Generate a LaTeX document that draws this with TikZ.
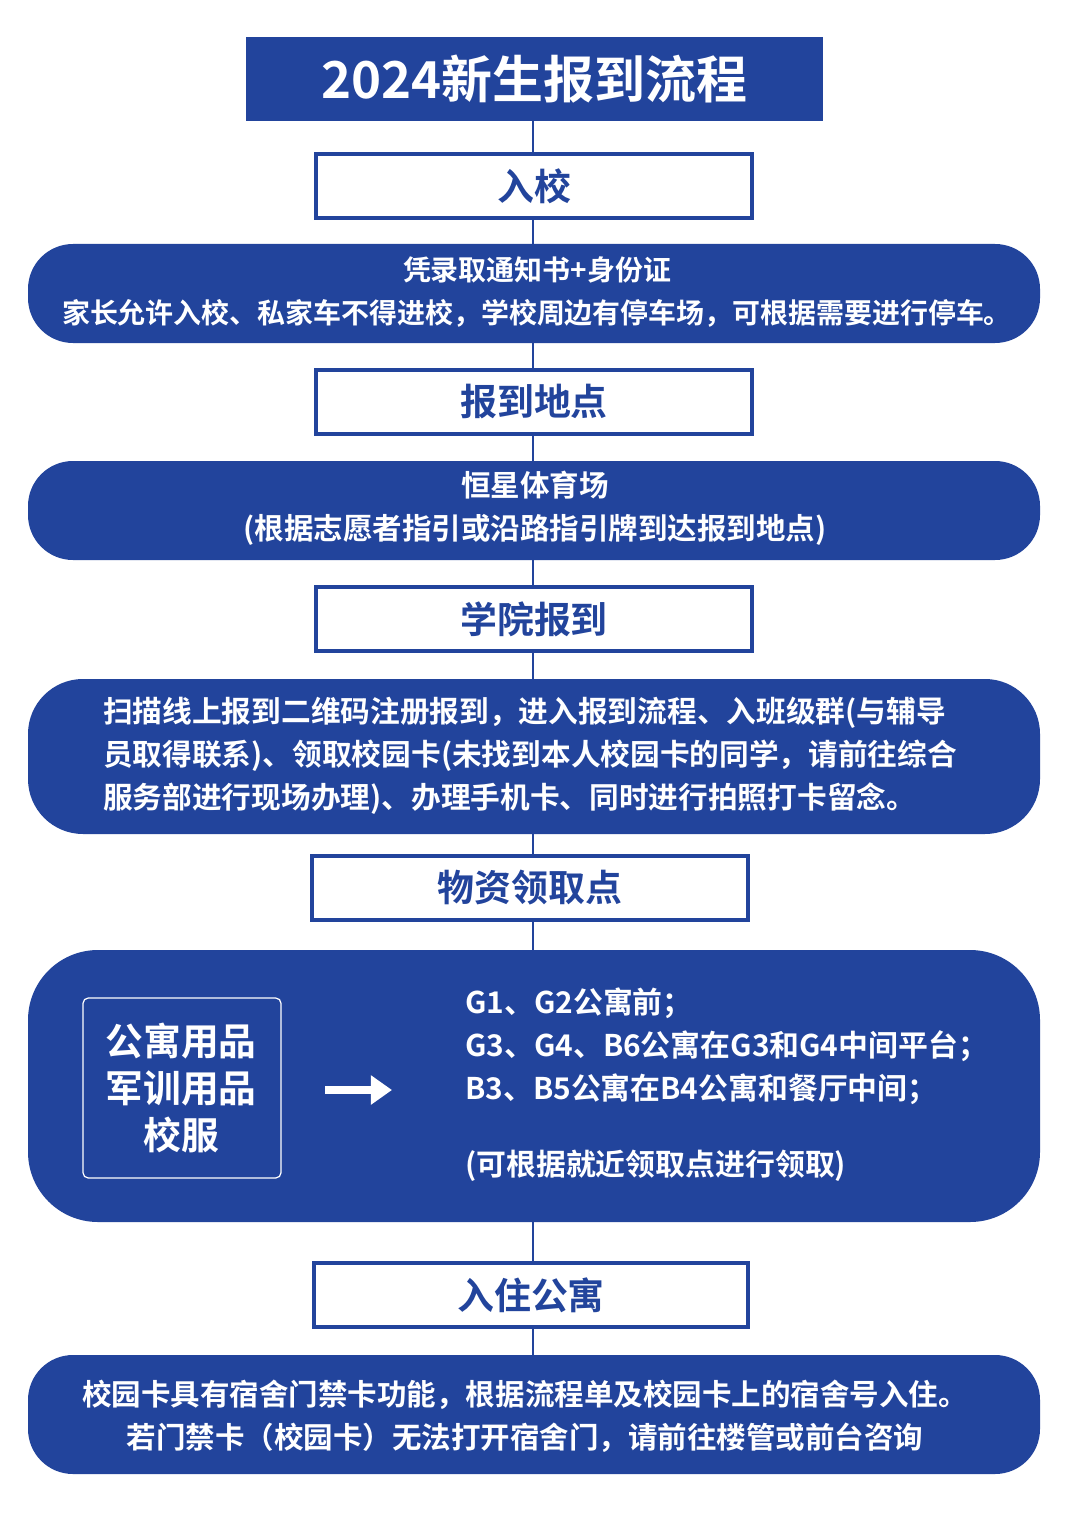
\documentclass[tikz,border=0pt]{standalone}
\usetikzlibrary{arrows.meta}
\usepackage{fontspec}
\setmainfont{Noto Sans CJK SC Bold}
\definecolor{bl}{HTML}{22449C}
\begin{document}
\begin{tikzpicture}[x=0.02cm,y=-0.02cm,
  stepbox/.style={draw=bl,line width=1.8pt,fill=white,text=bl,font=\fontsize{21}{24}\selectfont},
  conn/.style={draw=bl,line width=1pt}]
\useasboundingbox (0,0) rectangle (1080,1520);
\fill[white] (0,0) rectangle (1080,1520);
\coordinate (top) at (533,121);
\coordinate (bot) at (533,1355);
\draw[conn] (top) -- (bot);
\node[fill=bl,text=white,minimum width=577*0.02cm,minimum height=84*0.02cm,font=\fontsize{29}{32}\selectfont] (title) at (534.5,79) {2024新生报到流程};
% bands
\fill[bl,rounded corners=0.9cm] (28,244) rectangle (1040,343);
\node[text=white,align=center,font=\fontsize{15.9}{24.5}\selectfont] (b1) at (537,292) {凭录取通知书+身份证\\家长允许入校、私家车不得进校，学校周边有停车场，可根据需要进行停车。};
\fill[bl,rounded corners=0.9cm] (28,461) rectangle (1040,560);
\node[text=white,align=center,font=\fontsize{16.8}{24.5}\selectfont] (b2) at (535,508) {恒星体育场\\(根据志愿者指引或沿路指引牌到达报到地点)};
\fill[bl,rounded corners=1.1cm] (28,679) rectangle (1040,834);
\node[text=white,align=left,anchor=west,font=\fontsize{16.9}{24.5}\selectfont] (b3) at (97,756) {扫描线上报到二维码注册报到，进入报到流程、入班级群(与辅导\\员取得联系)、领取校园卡(未找到本人校园卡的同学，请前往综合\\服务部进行现场办理)、办理手机卡、同时进行拍照打卡留念。};
\fill[bl,rounded corners=1.4cm] (28,950) rectangle (1040,1222);
\draw[white,line width=0.7pt,rounded corners=3pt] (83,998) rectangle (281,1178);
\node[text=white,align=center,font=\fontsize{21.5}{27}\selectfont] (goods) at (181,1088) {公寓用品\\军训用品\\校服};
\coordinate (a1) at (325,1090);
\coordinate (a2) at (392,1090);
\draw[white,line width=5pt,-{Triangle[width=16pt,length=12pt]}] (a1) -- (a2);
\node[text=white,align=left,anchor=north west,font=\fontsize{17}{24.5}\selectfont] (b4) at (459,982) {G1、G2公寓前；\\G3、G4、B6公寓在G3和G4中间平台；\\B3、B5公寓在B4公寓和餐厅中间；\\[1.1em](可根据就近领取点进行领取)};
\fill[bl,rounded corners=0.9cm] (28,1355) rectangle (1040,1474);
\node[text=white,align=center,font=\fontsize{16.8}{24.5}\selectfont] (b5) at (525,1416) {校园卡具有宿舍门禁卡功能，根据流程单及校园卡上的宿舍号入住。\\若门禁卡（校园卡）无法打开宿舍门，请前往楼管或前台咨询};
% steps
\node[stepbox,minimum width=436*0.02cm,minimum height=64*0.02cm] (s1) at (534,186) {入校};
\node[stepbox,minimum width=436*0.02cm,minimum height=64*0.02cm] (s2) at (534,402) {报到地点};
\node[stepbox,minimum width=436*0.02cm,minimum height=64*0.02cm] (s3) at (534,619) {学院报到};
\node[stepbox,minimum width=436*0.02cm,minimum height=64*0.02cm] (s4) at (530,888) {物资领取点};
\node[stepbox,minimum width=434*0.02cm,minimum height=64*0.02cm] (s5) at (531,1295) {入住公寓};
\end{tikzpicture}
\end{document}
